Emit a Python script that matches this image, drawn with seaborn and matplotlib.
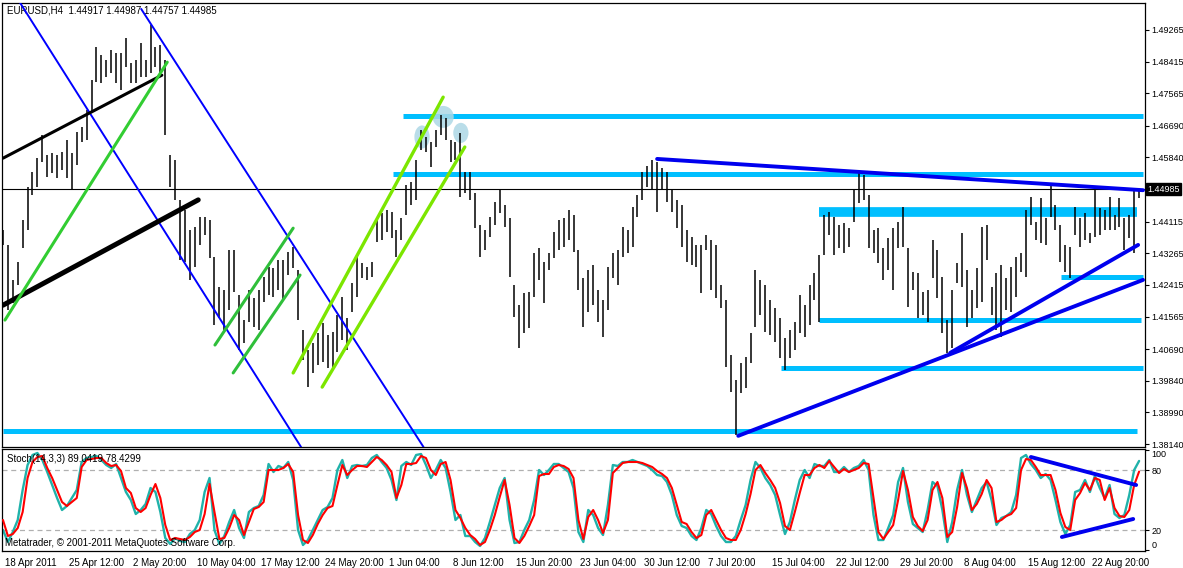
import numpy as np
import pandas as pd
import matplotlib
matplotlib.use("Agg")
import matplotlib.pyplot as plt
import seaborn as sns
from matplotlib.patches import Ellipse
from matplotlib.transforms import ScaledTranslation, blended_transform_factory

sns.set_theme(style="white")
plt.rcParams['font.family'] = ['Liberation Sans', 'DejaVu Sans']

### data: EURUSD H4 bars (high / low)
highs = [1.4389,1.4349,1.4255,1.4303,1.4416,1.4505,1.4545,1.4582,1.4644,1.4591,
         1.4596,1.4591,1.4599,1.4631,1.4596,1.4652,1.4666,1.4711,1.4792,1.4881,
         1.4859,1.4846,1.4873,1.4865,1.4865,1.4905,1.4838,1.4846,1.4891,1.4846,
         1.4940,1.4881,1.4886,1.4846,1.4591,1.4577,1.4470,1.4443,1.4389,1.4397,
         1.4424,1.4424,1.4416,1.4316,1.4236,1.4228,1.4335,1.4335,1.4214,1.4147,
         1.4228,1.4206,1.4228,1.4263,1.4290,1.4287,1.4308,1.4308,1.4330,1.4343,
         1.4281,1.4120,1.4067,1.4085,1.4112,1.4139,1.4107,1.4115,1.4161,1.4209,
         1.4152,1.4247,1.4316,1.4300,1.4290,1.4303,1.4416,1.4435,1.4443,1.4437,
         1.4389,1.4421,1.4510,1.4518,1.4577,1.4658,1.4639,1.4625,1.4658,1.4698,
         1.4690,1.4631,1.4625,1.4650,1.4545,1.4545,1.4488,1.4402,1.4389,1.4424,
         1.4464,1.4496,1.4456,1.4421,1.4241,1.4187,1.4220,1.4222,1.4327,1.4341,
         1.4303,1.4327,1.4384,1.4416,1.4421,1.4443,1.4429,1.4335,1.4260,1.4281,
         1.4295,1.4228,1.4201,1.4290,1.4327,1.4335,1.4397,1.4389,1.4451,1.4483,
         1.4545,1.4561,1.4577,1.4572,1.4556,1.4545,1.4496,1.4470,1.4456,1.4389,
         1.4370,1.4349,1.4349,1.4376,1.4362,1.4349,1.4241,1.4201,1.4053,1.3986,
         1.4032,1.4048,1.4112,1.4281,1.4255,1.4241,1.4201,1.4179,1.4152,1.4099,
         1.4120,1.4142,1.4214,1.4187,1.4241,1.4273,1.4322,1.4429,1.4437,1.4424,
         1.4402,1.4408,1.4394,1.4496,1.4542,1.4537,1.4483,1.4389,1.4394,1.4341,
         1.4368,1.4394,1.4410,1.4451,1.4341,1.4276,1.4273,1.4222,1.4228,1.4362,
         1.4335,1.4263,1.4147,1.4228,1.4300,1.4381,1.4281,1.4228,1.4287,1.4397,
         1.4402,1.4236,1.4273,1.4295,1.4260,1.4290,1.4316,1.4327,1.4443,1.4478,
         1.4410,1.4475,1.4421,1.4515,1.4456,1.4402,1.4349,1.4343,1.4451,1.4421,
         1.4435,1.4381,1.4496,1.4448,1.4443,1.4478,1.4429,1.4475,1.4421,1.4429,
         1.4502,1.44987]
lows = [1.4349,1.4174,1.4193,1.4241,1.4341,1.4389,1.4483,1.4505,1.4572,1.4531,
        1.4542,1.4529,1.4550,1.4529,1.4496,1.4564,1.4625,1.4631,1.4706,1.4787,
        1.4784,1.4800,1.4811,1.4784,1.4765,1.4827,1.4784,1.4784,1.4800,1.4800,
        1.4811,1.4827,1.4800,1.4644,1.4505,1.4470,1.4308,1.4303,1.4255,1.4290,
        1.4349,1.4376,1.4314,1.4134,1.4152,1.4120,1.4174,1.4222,1.4067,1.4085,
        1.4142,1.4128,1.4120,1.4196,1.4214,1.4209,1.4228,1.4201,1.4268,1.4287,
        1.4147,1.4040,1.3967,1.4005,1.4026,1.4034,1.4018,1.4013,1.4061,1.4093,
        1.4067,1.4169,1.4209,1.4260,1.4255,1.4263,1.4357,1.4362,1.4384,1.4367,
        1.4316,1.4362,1.4429,1.4456,1.4470,1.4604,1.4599,1.4558,1.4612,1.4644,
        1.4631,1.4572,1.4577,1.4478,1.4488,1.4470,1.4394,1.4316,1.4335,1.4370,
        1.4402,1.4435,1.4397,1.4263,1.4155,1.4072,1.4112,1.4126,1.4209,1.4255,
        1.4193,1.4281,1.4314,1.4335,1.4343,1.4362,1.4330,1.4228,1.4128,1.4169,
        1.4187,1.4142,1.4102,1.4174,1.4260,1.4241,1.4316,1.4327,1.4343,1.4424,
        1.4470,1.4505,1.4496,1.4437,1.4496,1.4464,1.4437,1.4394,1.4343,1.4303,
        1.4295,1.4290,1.4220,1.4335,1.4228,1.4206,1.4179,1.4021,1.3954,1.3838,
        1.3951,1.3964,1.4032,1.4128,1.4161,1.4115,1.4107,1.4088,1.4045,1.4013,
        1.4045,1.4067,1.4112,1.4102,1.4134,1.4201,1.4142,1.4322,1.4376,1.4322,
        1.4341,1.4327,1.4343,1.4410,1.4462,1.4470,1.4341,1.4327,1.4300,1.4255,
        1.4281,1.4228,1.4341,1.4343,1.4182,1.4228,1.4152,1.4161,1.4142,1.4260,
        1.4206,1.4112,1.4059,1.4072,1.4247,1.4236,1.4128,1.4152,1.4179,1.4196,
        1.4308,1.4161,1.4120,1.4102,1.4174,1.4169,1.4209,1.4276,1.4263,1.4402,
        1.4362,1.4354,1.4349,1.4424,1.4389,1.4303,1.4276,1.4260,1.4376,1.4343,
        1.4362,1.4354,1.4370,1.4376,1.4389,1.4389,1.4389,1.4397,1.4335,1.4368,
        1.4327,1.44757]

# Stochastic(14,3,3): main (teal) and signal (red)
stoch_main = [20,8,18,30,60,85,95,97,90,78, 65,52,40,44,52,60,88,92,93,94,
              90,85,82,86,72,58,50,36,40,46, 62,58,38,12,6,12,9,8,16,20,
              30,58,72,20,6,14,28,40,22,12, 38,42,44,55,86,78,84,82,88,70,
              20,5,10,20,30,40,43,52,80,90, 72,84,85,84,85,92,95,88,82,70,
              50,84,88,85,95,96,85,72,80,90, 82,58,30,35,14,14,8,4,12,28,
              45,62,72,30,7,8,20,30,50,80, 75,80,86,86,82,78,62,18,8,40,
              35,22,15,45,85,84,88,88,90,88, 86,84,80,75,74,68,55,35,24,22,
              14,10,22,40,36,24,14,8,8,14, 30,45,70,88,82,72,65,55,35,16,
              28,50,70,80,72,86,84,84,90,78, 78,83,78,82,84,90,80,35,10,10,
              22,35,68,82,48,26,22,18,40,68, 64,40,8,28,60,80,55,38,50,62,
              68,50,25,32,34,38,55,92,95,86, 80,72,76,70,50,28,16,25,58,60,
              70,58,74,62,52,65,36,32,35,55, 80,89.0419]
stoch_signal = [30,14,16,22,38,72,88,93,94,82, 72,60,48,44,48,52,83,90,91,92,
                92,87,84,85,79,62,57,42,38,42, 55,66,52,25,10,12,11,10,13,18,
                20,36,66,38,11,12,22,35,30,15, 28,41,43,48,80,80,80,82,86,78,
                35,10,7,15,26,35,42,44,65,85, 75,80,84,84,83,88,93,90,85,78,
                52,65,86,86,87,94,92,80,75,86, 88,70,40,32,22,15,11,5,8,20,
                35,53,70,45,12,7,14,24,35,74, 76,76,83,85,84,81,72,30,11,33,
                40,30,17,30,77,82,87,88,88,88, 87,85,83,79,76,72,62,45,28,26,
                18,12,15,35,40,30,20,12,10,10, 20,36,56,80,85,77,70,62,47,24,
                20,38,57,75,75,82,85,82,89,83, 77,81,78,80,82,87,86,52,18,11,
                18,25,50,79,60,33,24,19,30,60, 68,52,13,18,43,77,62,40,46,56,
                70,62,28,30,34,36,42,80,91,90, 83,75,75,75,60,37,23,20,50,57,
                67,60,72,70,50,62,42,34,33,40, 65,78.4299]

time_labels = ["18 Apr 2011", "25 Apr 12:00", "2 May 20:00", "10 May 04:00",
               "17 May 12:00", "24 May 20:00", "1 Jun 04:00", "8 Jun 12:00",
               "15 Jun 20:00", "23 Jun 04:00", "30 Jun 12:00", "7 Jul 20:00",
               "15 Jul 04:00", "22 Jul 12:00", "29 Jul 20:00", "8 Aug 04:00",
               "15 Aug 12:00", "22 Aug 20:00"]
price_ticks = [1.49265, 1.48415, 1.47565, 1.46690, 1.45840, 1.44115, 1.43265,
               1.42415, 1.41565, 1.40690, 1.39840, 1.38990, 1.38140]
last_price = 1.44985
header = "EURUSD,H4  1.44917 1.44987 1.44757 1.44985"
stoch_title = "Stoch(14,3,3) 89.0419 78.4299"

# drawn objects (bar0, price0, bar1, price1)
blue_channel = [(3.5, 1.4999, 60.6, 1.3806), (28.1, 1.4983, 85.5, 1.3806)]
black_thin = [(0, 1.4582, 32.3, 1.4805)]
black_thick = [(0, 1.4187, 39.7, 1.4470)]
green_lines = [(0.4, 1.4147, 33.4, 1.4840), (43.1, 1.4080, 59.0, 1.4394),
               (46.8, 1.4005, 60.4, 1.4268)]
lime_lines = [(59.0, 1.4005, 89.5, 1.4746), (64.9, 1.3967, 93.9, 1.4612)]
blue_trend = [(133.0, 1.4580, 231.8, 1.4496), (149.5, 1.3836, 231.8, 1.4255),
              (192.6, 1.4059, 230.8, 1.4349)]
stoch_trend = [(209.0, 93, 230.4, 65), (215.3, 13, 229.8, 31)]
# horizontal levels (price, bar_start, bar_end, width)
levels = [(1.4695, 81.3, 231.8, 3.6), (1.4540, 79.3, 231.8, 3.6),
          (1.4437, 165.9, 230.6, 7.0), (1.4263, 215.1, 231.8, 3.6),
          (1.4147, 165.9, 231.4, 3.6), (1.4018, 158.2, 231.8, 3.6),
          (1.3849, 0.0, 230.6, 3.6)]
# peak circles (bar, price, width in bars, height in price)
peaks = [(85.2, 1.4639, 3.1, 0.0062), (89.5, 1.4693, 4.3, 0.0059),
         (93.1, 1.4650, 3.1, 0.0054)]

bars = np.arange(len(highs))

fig = plt.figure(figsize=(11.83, 5.68), dpi=100)
ax = fig.add_axes([2/1183, 121/568, 1143/1183, 444/568])
ax2 = fig.add_axes([2/1183, 17/568, 1143/1183, 102/568])

###1: price panel
for p, b0, b1, w in levels:
    ax.plot([b0, b1], [p, p], color="#00bfff", lw=w, solid_capstyle="butt", zorder=2)
for bx, py, w, h in peaks:
    ax.add_patch(Ellipse((bx, py), w, h, fc="#add8e6", ec="none", alpha=0.85, zorder=2.5))

ax.vlines(bars, lows, highs, color="black", lw=1.1, zorder=3)
ax.axhline(last_price, color="black", lw=0.8, zorder=2.8)

for b0, p0, b1, p1 in blue_channel:
    ax.plot([b0, b1], [p0, p1], color="#0000ff", lw=1.4, zorder=4)
for b0, p0, b1, p1 in black_thin:
    ax.plot([b0, b1], [p0, p1], color="black", lw=2.2, solid_capstyle="round", zorder=4)
for b0, p0, b1, p1 in black_thick:
    ax.plot([b0, b1], [p0, p1], color="black", lw=3.6, solid_capstyle="round", zorder=4)
for k, (b0, p0, b1, p1) in enumerate(green_lines):
    ax.plot([b0, b1], [p0, p1], color="#32cd32" if k == 0 else "#2fbf3a", lw=2.2, zorder=4)
for b0, p0, b1, p1 in lime_lines:
    ax.plot([b0, b1], [p0, p1], color="#7ce600", lw=2.4, zorder=4)
for b0, p0, b1, p1 in blue_trend:
    ax.plot([b0, b1], [p0, p1], color="#0000ee", lw=2.8, zorder=4)

ax.set_xlim(-0.2, 232.2)
ax.set_ylim(1.3806, 1.4999)
ax.set_xticks([])
ax.yaxis.tick_right()
ax.set_yticks(price_ticks)
ax.set_yticklabels(["%.5f" % t for t in price_ticks])
ax.tick_params(axis="y", length=3, width=0.8, pad=1.5, labelsize=6.5, colors="black")

trans = blended_transform_factory(ax.transAxes, ax.transData)
ax.text(1.002, last_price, "%.5f" % last_price, transform=trans, ha="left", va="center",
        fontsize=6.5, color="white", clip_on=False,
        bbox=dict(boxstyle="square,pad=0.15", fc="black", ec="black"))
ax.text(5/1143, 0.982, header, transform=ax.transAxes, ha="left", va="center",
        fontsize=7, color="black")

###2: stochastic panel
df = pd.DataFrame({"bar": bars, "main": stoch_main, "signal": stoch_signal})
ax2.axhline(80, color="#b0b0b0", lw=0.9, ls=(0, (4, 3)), zorder=1)
ax2.axhline(20, color="#b0b0b0", lw=0.9, ls=(0, (4, 3)), zorder=1)
sns.lineplot(data=df, x="bar", y="main", ax=ax2, color="#20b2aa", lw=1.7, legend=False, zorder=2)
sns.lineplot(data=df, x="bar", y="signal", ax=ax2, color="#ff0000", lw=1.5, legend=False, zorder=3)
for b0, v0, b1, v1 in stoch_trend:
    ax2.plot([b0, b1], [v0, v1], color="#0000ee", lw=2.8, zorder=4)

ax2.set_xlim(-0.2, 232.2)
ax2.set_ylim(-1, 101)
ax2.set_xlabel("")
ax2.set_ylabel("")
ax2.yaxis.tick_right()
ax2.set_yticks([100, 80, 20, 0])
ax2.set_yticklabels(["100", "80", "20", "0"])
ylabs = ax2.get_yticklabels()
ylabs[0].set_va("top")
ylabs[3].set_va("bottom")
ax2.tick_params(axis="y", length=3, width=0.8, pad=1.5, labelsize=6.5, colors="black")

ax2.set_xticks(list(range(0, len(time_labels) * 13, 13)))
ax2.set_xticklabels(time_labels)
ax2.tick_params(axis="x", length=4, width=0.8, pad=1, labelsize=7, colors="black")
for lab in ax2.get_xticklabels():
    lab.set_ha("left")
    lab.set_transform(lab.get_transform() + ScaledTranslation(2/100, 0, fig.dpi_scale_trans))

ax2.text(5/1143, 0.90, stoch_title, transform=ax2.transAxes, ha="left", va="center",
         fontsize=7, color="black")
ax2.text(3/1143, 0.075, "Metatrader, \u00a9 2001-2011 MetaQuotes Software Corp.",
         transform=ax2.transAxes, ha="left", va="center", fontsize=7, color="black", zorder=5)

for a in (ax, ax2):
    for s in a.spines.values():
        s.set_color("black")
        s.set_linewidth(0.9)
    a.grid(False)
    a.set_facecolor("white")

fig.savefig("out.png", dpi=100, facecolor="white")
